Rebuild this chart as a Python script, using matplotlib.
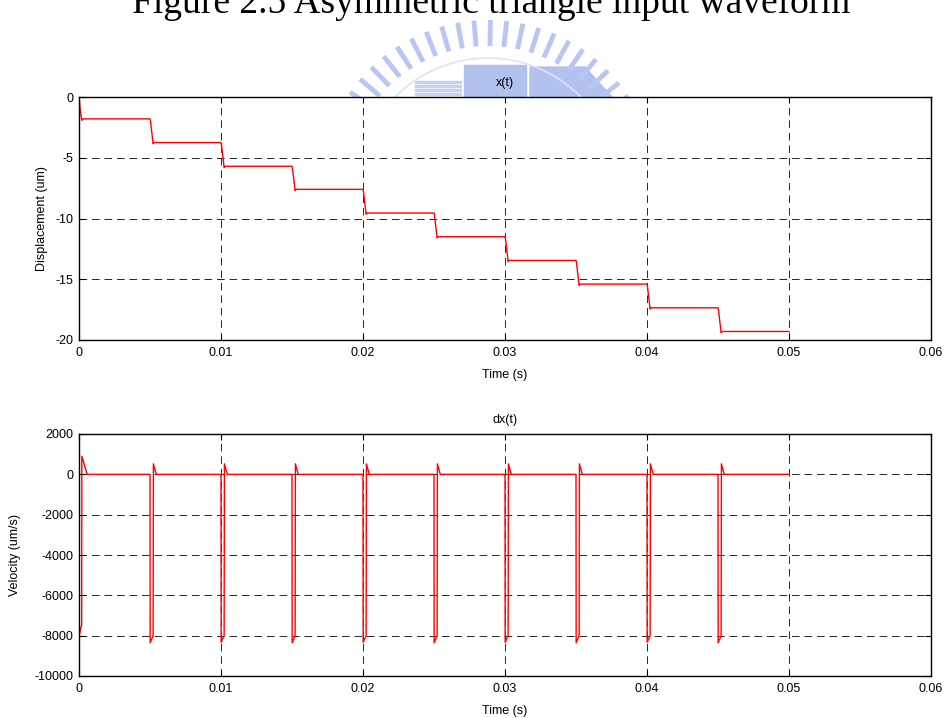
import numpy as np
import matplotlib.pyplot as plt
from matplotlib.patches import Rectangle, Polygon

plt.rcParams['font.family'] = ['Liberation Sans', 'DejaVu Sans']
plt.rcParams['lines.scale_dashes'] = False
plt.rcParams['axes.unicode_minus'] = False

# displacement x(t) in um
t_x = [0.0, 0.0001, 0.0002, 0.0003,
       0.005, 0.00503, 0.00522, 0.00528,
       0.010, 0.01003, 0.01022, 0.01028,
       0.015, 0.01503, 0.01522, 0.01528,
       0.020, 0.02003, 0.02022, 0.02028,
       0.025, 0.02503, 0.02522, 0.02528,
       0.030, 0.03003, 0.03022, 0.03028,
       0.035, 0.03503, 0.03522, 0.03528,
       0.040, 0.04003, 0.04022, 0.04028,
       0.045, 0.04503, 0.04522, 0.04528, 0.050]
x_um = [0.0, -1.2, -1.92, -1.8,
        -1.8, -1.95, -3.85, -3.75,
        -3.75, -3.9, -5.8, -5.7,
        -5.7, -5.85, -7.7, -7.6,
        -7.6, -7.75, -9.65, -9.55,
        -9.55, -9.7, -11.6, -11.5,
        -11.5, -11.65, -13.55, -13.45,
        -13.45, -13.6, -15.5, -15.4,
        -15.4, -15.55, -17.45, -17.35,
        -17.35, -17.5, -19.4, -19.3, -19.3]

# velocity dx(t) in um/s
t_v = [0.0, 0.00001, 0.00019, 0.0002, 0.00057,
       0.005, 0.00501, 0.00522, 0.00524, 0.00544,
       0.010, 0.01001, 0.01022, 0.01024, 0.01044,
       0.015, 0.01501, 0.01522, 0.01524, 0.01544,
       0.020, 0.02001, 0.02022, 0.02024, 0.02044,
       0.025, 0.02501, 0.02522, 0.02524, 0.02544,
       0.030, 0.03001, 0.03022, 0.03024, 0.03044,
       0.035, 0.03501, 0.03522, 0.03524, 0.03544,
       0.040, 0.04001, 0.04022, 0.04024, 0.04044,
       0.045, 0.04501, 0.04522, 0.04524, 0.04544, 0.050]
v_ums = [0, -8000, -7450, 900, 0,
         0, -8350, -8000, 520, 0,
         0, -8330, -8000, 520, 0,
         0, -8350, -8000, 520, 0,
         0, -8330, -8000, 520, 0,
         0, -8350, -8000, 520, 0,
         0, -8330, -8000, 520, 0,
         0, -8350, -8000, 520, 0,
         0, -8330, -8000, 520, 0,
         0, -8350, -8000, 520, 0, 0]

x_ticks = [0, 0.01, 0.02, 0.03, 0.04, 0.05, 0.06]
x_ticklabels = ['0', '0.01', '0.02', '0.03', '0.04', '0.05', '0.06']
disp_ticks = [0, -5, -10, -15, -20]
vel_ticks = [2000, 0, -2000, -4000, -6000, -8000, -10000]

fig = plt.figure(figsize=(9.48, 7.18), dpi=100)

# faded logo watermark behind the plots
bg = fig.add_axes([0, 0, 1, 1], zorder=-1)
bg.set_xlim(0, 948)
bg.set_ylim(718, 0)
bg.axis('off')
logo_c = '#b9c6f1'
cx, cy = 488, 188
for a in np.radians(np.arange(22, 160, 5.6)):
    r1, r2 = 142, 168
    bg.plot([cx + r1*np.cos(a), cx + r2*np.cos(a)],
            [cy - r1*np.sin(a), cy - r2*np.sin(a)],
            color=logo_c, lw=3.5, solid_capstyle='butt')
arc = np.radians(np.linspace(25, 155, 80))
bg.plot(cx + 130*np.cos(arc), cy - 130*np.sin(arc), color='#dde3f7', lw=1.2)
for yy in range(81, 97, 4):
    bg.add_patch(Rectangle((415, yy), 46, 2.2, color='#c7d1f3'))
bg.add_patch(Rectangle((464, 65), 62, 32, color='#b3c1ef'))
bg.add_patch(Polygon([(530, 97), (530, 67), (585, 67), (612, 97)], color='#b3c1ef'))

fig.text(0.518, 1 - 13/718, 'Figure 2.5 Asymmetric triangle input waveform',
         family='Liberation Serif', fontsize=27, ha='center', va='baseline')

ax1 = fig.add_axes([79/948, 1 - 340/718, 852/948, 243/718])
ax2 = fig.add_axes([79/948, 1 - 676/718, 852/948, 242/718])

ax1.plot(t_x, x_um, color='red', lw=1)
ax2.plot(t_v, v_ums, color='red', lw=1)

for ax in (ax1, ax2):
    ax.set_xlim(0, 0.06)
    ax.set_xticks(x_ticks)
    ax.set_xticklabels(x_ticklabels)
    ax.set_xlabel('Time (s)', fontsize=9, labelpad=7)
    ax.tick_params(direction='in', length=4, width=0.8, labelsize=9,
                   top=True, right=True)
    ax.tick_params(axis='x', pad=5)
    ax.tick_params(axis='y', pad=4)
    ax.grid(True, color='0.15', linestyle=(0, (5.5, 3.5)), linewidth=0.7)
    for s in ax.spines.values():
        s.set_linewidth(1.0)

ax1.set_ylim(-20, 0)
ax1.set_yticks(disp_ticks)
ax1.set_ylabel('Displacement (um)', fontsize=9, labelpad=5)
ax1.set_title('x(t)', fontsize=9, pad=8)

ax2.set_ylim(-10000, 2000)
ax2.set_yticks(vel_ticks)
ax2.set_ylabel('Velocity (um/s)', fontsize=9, labelpad=10)
ax2.set_title('dx(t)', fontsize=9, pad=8)

fig.savefig('out.png', dpi=100)
